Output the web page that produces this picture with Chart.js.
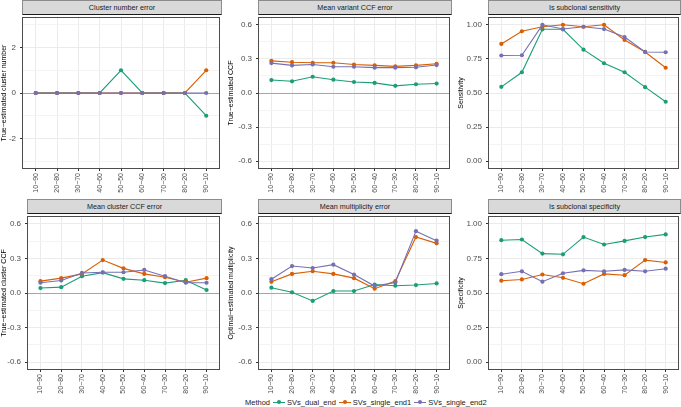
<!DOCTYPE html>
<html>
<head>
<meta charset="utf-8">
<script src="https://cdn.jsdelivr.net/npm/chart.js@4.4.0/dist/chart.umd.min.js"></script>
<style>
  body { margin: 0; width: 681px; height: 407px; background: #fff; position: relative; overflow: hidden;
         font-family: "Liberation Sans", Arial, sans-serif; }
  canvas { position: absolute; }
  .strip { position: absolute; height: 15px; box-sizing: border-box; background: #d9d9d9;
           border: 1px solid #8c8c8c; border-bottom: 1px solid #1a1a1a;
           font-size: 7.2px; line-height: 13px; text-align: center; color: #1a1a1a; }
  #legend { position: absolute; left: 245px; top: 397px; height: 10px; display: flex; align-items: center;
            font-size: 7.5px; color: #1a1a1a; white-space: nowrap; }
  .key { display: inline-block; width: 12px; height: 8px; position: relative; margin: 0 2px 0 3px; }
  .key i { position: absolute; left: 0; right: 0; top: 3.5px; height: 1px; }
  .key b { position: absolute; left: 4px; top: 2px; width: 4px; height: 4px; border-radius: 50%; }
</style>
</head>
<body>
<div id="legend"></div>
<script>
// categories (x axis)
const categories = ['10−90', '20−80', '30−70', '40−60', '50−50', '60−40', '70−30', '80−20', '90−10'];
const methods = ['SVs_dual_end', 'SVs_single_end1', 'SVs_single_end2'];
const methodColors = ['#1b9e77', '#d95f02', '#7570b3'];

// Cluster number error
const clusterNumDual = [0, 0, 0, 0, 1, 0, 0, 0, -1];
const clusterNumSingle1 = [0, 0, 0, 0, 0, 0, 0, 0, 1];
const clusterNumSingle2 = [0, 0, 0, 0, 0, 0, 0, 0, 0];

// Mean variant CCF error
const variantCcfDual = [0.114, 0.103, 0.143, 0.117, 0.097, 0.089, 0.063, 0.077, 0.083];
const variantCcfSingle1 = [0.283, 0.271, 0.266, 0.266, 0.251, 0.243, 0.234, 0.243, 0.257];
const variantCcfSingle2 = [0.263, 0.243, 0.251, 0.231, 0.231, 0.223, 0.223, 0.226, 0.246];

// Is subclonal sensitivity
const sensDual = [0.545, 0.652, 0.967, 0.967, 0.818, 0.718, 0.652, 0.543, 0.436];
const sensSingle1 = [0.860, 0.953, 0.986, 1.0, 0.986, 1.0, 0.889, 0.801, 0.685];
const sensSingle2 = [0.775, 0.777, 1.0, 0.969, 0.986, 0.969, 0.910, 0.801, 0.799];

// Mean cluster CCF error
const clusterCcfDual = [0.043, 0.051, 0.146, 0.177, 0.123, 0.111, 0.086, 0.111, 0.026];
const clusterCcfSingle1 = [0.103, 0.129, 0.166, 0.286, 0.214, 0.166, 0.137, 0.094, 0.129];
const clusterCcfSingle2 = [0.089, 0.109, 0.174, 0.180, 0.180, 0.200, 0.146, 0.089, 0.089];

// Mean multiplicity error
const multDual = [0.046, 0.006, -0.069, 0.017, 0.017, 0.074, 0.063, 0.069, 0.083];
const multSingle1 = [0.097, 0.166, 0.189, 0.166, 0.129, 0.037, 0.103, 0.486, 0.431];
const multSingle2 = [0.120, 0.234, 0.217, 0.246, 0.160, 0.060, 0.091, 0.537, 0.454];

// Is subclonal specificity
const specDual = [0.882, 0.887, 0.785, 0.780, 0.905, 0.851, 0.877, 0.905, 0.924];
const specSingle1 = [0.589, 0.598, 0.634, 0.610, 0.567, 0.638, 0.629, 0.738, 0.721];
const specSingle2 = [0.636, 0.657, 0.582, 0.643, 0.664, 0.657, 0.667, 0.657, 0.676];

// y scales
const countBreaks = [-2, 0, 2];
const countMinor = [-3, -1, 1, 3];
const errBreaks = [-0.6, -0.3, 0, 0.3, 0.6];
const errMinor = [-0.45, -0.15, 0.15, 0.45];
const rateBreaks = [0, 0.25, 0.5, 0.75, 1];
const rateMinor = [0.125, 0.375, 0.625, 0.875];

const panels = [
  { title: 'Cluster number error', yTitle: 'True−estimated cluster number', row: 0, col: 0,
    series: [clusterNumDual, clusterNumSingle1, clusterNumSingle2], lim: [-3.3, 3.3],
    breaks: countBreaks, minor: countMinor, digits: 0, zero: true },
  { title: 'Mean variant CCF error', yTitle: 'True−estimated CCF', row: 0, col: 1,
    series: [variantCcfDual, variantCcfSingle1, variantCcfSingle2], lim: [-0.66, 0.66],
    breaks: errBreaks, minor: errMinor, digits: 1, zero: true },
  { title: 'Is subclonal sensitivity', yTitle: 'Sensitivity', row: 0, col: 2,
    series: [sensDual, sensSingle1, sensSingle2], lim: [-0.05, 1.05],
    breaks: rateBreaks, minor: rateMinor, digits: 2, zero: false },
  { title: 'Mean cluster CCF error', yTitle: 'True−estimated cluster CCF', row: 1, col: 0,
    series: [clusterCcfDual, clusterCcfSingle1, clusterCcfSingle2], lim: [-0.66, 0.66],
    breaks: errBreaks, minor: errMinor, digits: 1, zero: true },
  { title: 'Mean multiplicity error', yTitle: 'Optimal−estimated multiplicity', row: 1, col: 1,
    series: [multDual, multSingle1, multSingle2], lim: [-0.66, 0.66],
    breaks: errBreaks, minor: errMinor, digits: 1, zero: true },
  { title: 'Is subclonal specificity', yTitle: 'Specificity', row: 1, col: 2,
    series: [specDual, specSingle1, specSingle2], lim: [-0.05, 1.05],
    breaks: rateBreaks, minor: rateMinor, digits: 2, zero: false }
];

// layout of the facet grid (per row, per column)
const colLeft = [[23, 259, 489], [28, 259, 489]];
const colRight = [221, 451, 680];
const yAxisW = [[23, 32, 32], [28, 32, 32]];
const rowTop = [15, 214];
const rowBottom = [168, 369];
const xAxisH = 28;

const FONT = '"Liberation Sans", Arial, sans-serif';

const panelFrame = {
  id: 'panelFrame',
  beforeDatasetsDraw(chart, args, opts) {
    if (!opts.zero) return;
    const { ctx, chartArea: a } = chart;
    const py = Math.round(chart.scales.y.getPixelForValue(0)) + 0.5;
    ctx.save();
    ctx.strokeStyle = '#a6a6a6';
    ctx.lineWidth = 1;
    ctx.beginPath();
    ctx.moveTo(a.left, py);
    ctx.lineTo(a.right, py);
    ctx.stroke();
    ctx.restore();
  },
  afterDraw(chart) {
    const { ctx, chartArea: a } = chart;
    ctx.save();
    ctx.strokeStyle = '#4d4d4d';
    ctx.lineWidth = 1;
    ctx.strokeRect(Math.round(a.left) - 0.5, Math.round(a.top) - 0.5,
                   Math.round(a.right - a.left) + 1, Math.round(a.bottom - a.top) + 1);
    ctx.restore();
  }
};

const near = (arr, v) => arr.some(b => Math.abs(b - v) < 1e-6);

panels.forEach(p => {
  const left = colLeft[p.row][p.col], right = colRight[p.col];
  const top = rowTop[p.row], bottom = rowBottom[p.row];
  const yw = yAxisW[p.row][p.col];

  const strip = document.createElement('div');
  strip.className = 'strip';
  strip.textContent = p.title;
  strip.style.left = (left - 1) + 'px';
  strip.style.top = (top - 15) + 'px';
  strip.style.width = (right - left + 2) + 'px';
  document.body.appendChild(strip);

  const canvas = document.createElement('canvas');
  canvas.width = yw + (right - left) + 2;
  canvas.height = (bottom - top) + 1 + xAxisH;
  canvas.style.left = (left - yw) + 'px';
  canvas.style.top = (top - 1) + 'px';
  document.body.appendChild(canvas);

  const yTicks = p.breaks.concat(p.minor).sort((a, b) => a - b);

  new Chart(canvas, {
    type: 'line',
    data: {
      datasets: p.series.map((vals, k) => ({
        label: methods[k],
        data: vals.map((v, i) => ({ x: i, y: v })),
        borderColor: methodColors[k],
        backgroundColor: methodColors[k],
        pointBackgroundColor: methodColors[k],
        pointBorderWidth: 0,
        pointRadius: 2.1,
        borderWidth: 1.1,
        tension: 0,
        order: 3 - k
      }))
    },
    options: {
      responsive: false,
      animation: false,
      layout: { padding: { top: 1, right: 2, left: 0, bottom: 0 } },
      plugins: {
        legend: { display: false },
        tooltip: { enabled: false },
        panelFrame: { zero: p.zero }
      },
      scales: {
        x: {
          type: 'linear',
          min: -0.6,
          max: categories.length - 0.4,
          afterBuildTicks: s => { s.ticks = categories.map((c, i) => ({ value: i })); },
          afterFit: s => { s.height = xAxisH; s.paddingLeft = 0; s.paddingRight = 0; },
          border: { display: false },
          grid: { color: '#ebebeb', lineWidth: 1, drawTicks: true, tickLength: 3,
                  tickColor: '#333333', tickWidth: 1 },
          ticks: {
            autoSkip: false, minRotation: 90, maxRotation: 90, padding: 2,
            color: '#4d4d4d', font: { family: FONT, size: 7 },
            callback: v => categories[Math.round(v)]
          }
        },
        y: {
          type: 'linear',
          min: p.lim[0],
          max: p.lim[1],
          afterBuildTicks: s => { s.ticks = yTicks.map(v => ({ value: v })); },
          afterFit: s => { s.width = yw; s.paddingTop = 0; s.paddingBottom = 0; },
          border: { display: false },
          title: { display: true, text: p.yTitle, color: '#000', padding: 0,
                   font: { family: FONT, size: 7 } },
          grid: {
            color: c => near(p.breaks, c.tick.value) ? '#ebebeb' : '#f4f4f4',
            lineWidth: 1, drawTicks: true, tickLength: 3, tickWidth: 1,
            tickColor: c => near(p.breaks, c.tick.value) ? '#333333' : 'rgba(0,0,0,0)'
          },
          ticks: {
            autoSkip: false, padding: 4, color: '#4d4d4d', font: { family: FONT, size: 8 },
            callback: v => near(p.breaks, v) ? (Math.abs(v) < 1e-9 ? 0 : v).toFixed(p.digits) : ''
          }
        }
      }
    },
    plugins: [panelFrame]
  });
});

// legend
const legend = document.getElementById('legend');
const head = document.createElement('span');
head.textContent = 'Method';
legend.appendChild(head);
methods.forEach((m, k) => {
  const key = document.createElement('span');
  key.className = 'key';
  key.innerHTML = '<i style="background:' + methodColors[k] + '"></i><b style="background:' + methodColors[k] + '"></b>';
  legend.appendChild(key);
  const t = document.createElement('span');
  t.textContent = m;
  legend.appendChild(t);
});
</script>
</body>
</html>
